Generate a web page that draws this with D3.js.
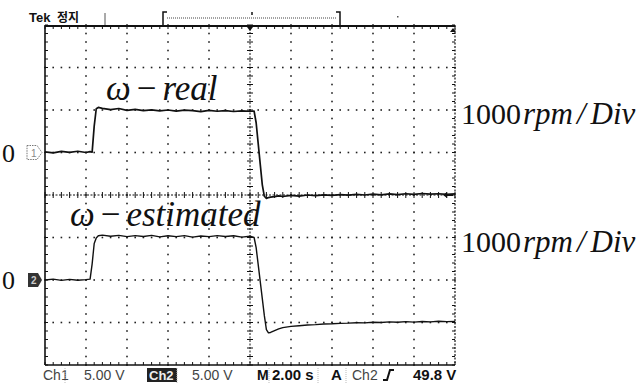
<!DOCTYPE html>
<html>
<head>
<meta charset="utf-8">
<script src="https://cdn.jsdelivr.net/npm/d3@7"></script>
<style>
  html, body { margin: 0; padding: 0; background: #fff; }
  svg { display: block; }
</style>
</head>
<body>
<svg id="scope" width="641" height="385"></svg>
<script>
// ---------------------------------------------
// Data (time in s, speed in rpm)
// ---------------------------------------------
const timeS = [-10, -9.6, -9.2, -8.8, -8.4, -8.0, -7.8, -7.7, -7.6, -7.5, -7.4, -7.2,
  -6.8, -6.4, -6.0, -5.6, -5.2, -4.8, -4.4, -4.0,
  -3.6, -3.2, -2.8, -2.4, -2.0, -1.6, -1.2, -0.8, -0.4, 0,
  0.2, 0.3, 0.4, 0.5, 0.6, 0.7, 0.8, 0.9, 1.0,
  1.2, 1.4, 1.6, 2.0, 2.4, 2.8, 3.2, 3.6, 4.0,
  4.4, 4.8, 5.2, 5.6, 6.0, 6.4, 6.8, 7.2, 7.6, 8.0,
  8.4, 8.8, 9.2, 9.6, 10];

// Ch1: measured speed
const realRpm = [15, -10, 25, 5, 30, 0, 20, 10, 620, 1030, 1060, 1040,
  1010, 1035, 990, 1015, 985, 1005, 980, 1000,
  975, 995, 985, 960, 990, 970, 985, 965, 980, 970,
  975, 700, 210, -280, -760, -1030, -1080, -1060, -1050,
  -1040, -1020, -1035, -1010, -1025, -1000, -1015, -995, -1010,
  -990, -1005, -985, -1000, -980, -995, -975, -990, -970, -985,
  -965, -980, -970, -985, -975];

// Ch2: estimated speed
const estRpm = [0, 20, -10, 15, -5, 10, 20, 380, 860, 990, 1040, 1055,
  1030, 1050, 1020, 1045, 1025, 1050, 1015, 1040,
  1020, 1045, 1010, 1035, 1020, 1045, 1025, 1040, 1010, 1030,
  1000, 760, 360, -40, -440, -840, -1170, -1245, -1235,
  -1190, -1150, -1120, -1090, -1075, -1060, -1050, -1035, -1030,
  -1020, -1015, -1005, -1010, -995, -1000, -985, -995, -980, -990,
  -975, -985, -970, -980, -975];

const channels = ["Ch1", "Ch2"];
const channelOffsetDiv = [1, -2];   // ground marker position, divisions
const rpmPerDiv = 1000;
const traceLabels = ["real", "estimated"];
const scaleLabel = ["1000", "rpm", "Div"];
const readout = {
  ch1: "5.00 V", ch2: "5.00 V", time: "2.00 s", trigSrc: "Ch2", trigLevel: "49.8 V"
};

// ---------------------------------------------
// Scales
// ---------------------------------------------
const svg = d3.select("#scope");
const gLeft = 45, gRight = 455, gTop = 25, gBottom = 365;

const x = d3.scaleLinear().domain([-10, 10]).range([gLeft, gRight]);
const yDiv = d3.scaleLinear().domain([4, -4]).range([gTop, gBottom]);
const yFor = ch => v => yDiv(channelOffsetDiv[ch] + v / rpmPerDiv);

const ink = "#111";
const sans = "'Liberation Sans', Arial, sans-serif";
const serif = "'Liberation Serif', 'Times New Roman', serif";

// ---------------------------------------------
// Graticule
// ---------------------------------------------
const grid = svg.append("g");
const minorT = d3.range(-10, 10.001, 0.4);
const minorD = d3.range(-4, 4.001, 0.2);

// dotted grid lines
for (let t = -8; t <= 8; t += 2) {
  if (t === 0) continue;
  grid.selectAll(null).data(minorD).enter().append("rect")
    .attr("x", x(t) - 0.8).attr("y", d => yDiv(d) - 0.8)
    .attr("width", 1.6).attr("height", 1.6).attr("fill", "#222");
}
for (let d = -3; d <= 3; d++) {
  if (d === 0) continue;
  grid.selectAll(null).data(minorT).enter().append("rect")
    .attr("x", t => x(t) - 0.8).attr("y", yDiv(d) - 0.8)
    .attr("width", 1.6).attr("height", 1.6).attr("fill", "#222");
}

// centre axes with minor ticks
grid.append("line").attr("x1", x(0)).attr("x2", x(0)).attr("y1", gTop).attr("y2", gBottom)
  .attr("stroke", ink).attr("stroke-width", 1).attr("stroke-dasharray", "2,1.5");
grid.append("line").attr("x1", gLeft).attr("x2", gRight).attr("y1", yDiv(0)).attr("y2", yDiv(0))
  .attr("stroke", ink).attr("stroke-width", 1).attr("stroke-dasharray", "2,1.5");
grid.selectAll(null).data(minorD).enter().append("line")
  .attr("x1", x(0) - 3).attr("x2", x(0) + 3)
  .attr("y1", d => yDiv(d)).attr("y2", d => yDiv(d))
  .attr("stroke", ink).attr("stroke-width", 1);
grid.selectAll(null).data(minorT).enter().append("line")
  .attr("x1", t => x(t)).attr("x2", t => x(t))
  .attr("y1", yDiv(0) - 3).attr("y2", yDiv(0) + 3)
  .attr("stroke", ink).attr("stroke-width", 1);

// frame
grid.append("line").attr("x1", gLeft).attr("x2", gRight).attr("y1", gTop + 1).attr("y2", gTop + 1)
  .attr("stroke", ink).attr("stroke-width", 2.2);
grid.append("line").attr("x1", gLeft).attr("x2", gRight).attr("y1", gBottom).attr("y2", gBottom)
  .attr("stroke", ink).attr("stroke-width", 1.4);
grid.append("line").attr("x1", gLeft).attr("x2", gLeft).attr("y1", gTop).attr("y2", gBottom)
  .attr("stroke", ink).attr("stroke-width", 1.6);
grid.append("line").attr("x1", gRight).attr("x2", gRight).attr("y1", gTop).attr("y2", gBottom)
  .attr("stroke", ink).attr("stroke-width", 1.2).attr("stroke-dasharray", "2,1.5");

// edge ticks
grid.selectAll(null).data(minorD).enter().append("line")
  .attr("x1", gLeft).attr("x2", gLeft + 3).attr("y1", d => yDiv(d)).attr("y2", d => yDiv(d))
  .attr("stroke", ink).attr("stroke-width", 1);
grid.selectAll(null).data(minorD).enter().append("line")
  .attr("x1", gRight - 3).attr("x2", gRight).attr("y1", d => yDiv(d)).attr("y2", d => yDiv(d))
  .attr("stroke", ink).attr("stroke-width", 1);
grid.selectAll(null).data(minorT).enter().append("line")
  .attr("x1", t => x(t)).attr("x2", t => x(t)).attr("y1", gTop + 1).attr("y2", gTop + 4)
  .attr("stroke", ink).attr("stroke-width", 1);
grid.selectAll(null).data(minorT).enter().append("line")
  .attr("x1", t => x(t)).attr("x2", t => x(t)).attr("y1", gBottom - 3).attr("y2", gBottom)
  .attr("stroke", ink).attr("stroke-width", 1);

// trigger position / level markers
grid.append("path").attr("d", `M${x(0) - 3},${gTop + 2} h6 l-3,4 z`).attr("fill", ink);
grid.append("path").attr("d", `M${gRight - 5},${gTop + 7} l3,-4 l3,4 z`).attr("fill", ink);
grid.append("path").attr("d", `M${gRight - 12},${yDiv(0)} l4,-3 v2 h6 v2 h-6 v2 z`).attr("fill", ink);

// ---------------------------------------------
// Traces
// ---------------------------------------------
const traces = [realRpm, estRpm];
traces.forEach((vals, ch) => {
  const y = yFor(ch);
  const line = d3.line().x((d, i) => x(timeS[i])).y(d => y(d));
  svg.append("path").datum(vals)
    .attr("d", line)
    .attr("fill", "none")
    .attr("stroke", ink)
    .attr("stroke-width", ch === 0 ? 1.7 : 1.4)
    .attr("stroke-linejoin", "round");
});

// channel ground markers
const m1 = yFor(0)(0), m2 = yFor(1)(0);
svg.append("path").attr("d", `M27,${m1 - 7} h10 l5,7 l-5,7 h-10 z`)
  .attr("fill", "none").attr("stroke", "#777").attr("stroke-dasharray", "1.5,1");
svg.append("text").attr("x", 31).attr("y", m1 + 4).text("1")
  .attr("font-family", sans).attr("font-size", 10).attr("fill", "#888");
svg.append("path").attr("d", `M28,${m2 - 7} h10 l4,7 l-4,7 h-10 z`).attr("fill", "#333");
svg.append("text").attr("x", 31).attr("y", m2 + 4).text("2")
  .attr("font-family", sans).attr("font-size", 10).attr("font-weight", "bold").attr("fill", "#ccc");

// ---------------------------------------------
// Status bars
// ---------------------------------------------
svg.append("text").attr("x", 29).attr("y", 22).text("Tek")
  .attr("font-family", sans).attr("font-weight", "bold").attr("font-size", 13).attr("fill", ink);
svg.append("text").attr("x", 57).attr("y", 22).text("정지")
  .attr("font-family", "'Noto Sans CJK KR', sans-serif").attr("font-weight", "bold")
  .attr("font-size", 12).attr("fill", ink);
svg.append("line").attr("x1", 105).attr("x2", 105).attr("y1", 13).attr("y2", 25)
  .attr("stroke", "#555");
svg.append("path").attr("d", "M167,12 h-4 v13 M336,12 h4 v13")
  .attr("fill", "none").attr("stroke", ink).attr("stroke-width", 1.5);
svg.append("line").attr("x1", 167).attr("x2", 337).attr("y1", 18).attr("y2", 18)
  .attr("stroke", "#444").attr("stroke-dasharray", "1,1");
svg.append("line").attr("x1", 252).attr("x2", 252).attr("y1", 12).attr("y2", 15)
  .attr("stroke", ink).attr("stroke-width", 1.5);
svg.append("rect").attr("x", 397).attr("y", 16).attr("width", 1.5).attr("height", 1.5).attr("fill", "#555");

const by = 380;
const txt = (xx, s, o = {}) => svg.append("text").attr("x", xx).attr("y", by).text(s)
  .attr("font-family", sans).attr("font-size", o.size || 14)
  .attr("font-weight", o.bold ? "bold" : "normal").attr("fill", o.fill || "#444");
txt(43, channels[0]);
txt(84, readout.ch1);
svg.append("rect").attr("x", 147).attr("y", 368).attr("width", 30).attr("height", 14).attr("fill", "#222");
txt(149, channels[1], { bold: true, fill: "#eee", size: 13 });
txt(192, readout.ch2);
txt(257, "M", { bold: true, size: 14, fill: ink });
txt(272, readout.time, { bold: true, size: 15, fill: ink });
txt(331, "A", { bold: true, size: 15, fill: ink });
txt(352, readout.trigSrc);
svg.append("path").attr("d", `M383,${by} h4 l3,-10 h4`).attr("fill", "none")
  .attr("stroke", ink).attr("stroke-width", 2);
txt(413, readout.trigLevel, { bold: true, size: 15, fill: ink });
[65, 177, 269, 318, 346].forEach(sx => svg.append("line")
  .attr("x1", sx).attr("x2", sx).attr("y1", 368).attr("y2", 383)
  .attr("stroke", "#bbb").attr("stroke-dasharray", "1,1"));

// ---------------------------------------------
// Annotations
// ---------------------------------------------
[m1, m2].forEach(my => svg.append("text").attr("x", 2).attr("y", my + 9).text("0")
  .attr("font-family", serif).attr("font-size", 26).attr("fill", ink));

const lab = (xx, yy, word) => {
  const t = svg.append("text").attr("x", xx).attr("y", yy)
    .attr("font-family", serif).attr("font-size", 35).attr("font-style", "italic").attr("fill", ink);
  t.append("tspan").text("ω");
  t.append("tspan").attr("font-style", "normal").attr("dx", 6).text("−");
  t.append("tspan").attr("dx", 6).text(word);
};
lab(106, 100, traceLabels[0]);
lab(70, 226, traceLabels[1]);

[124, 252].forEach(yy => {
  const t = svg.append("text").attr("x", 461).attr("y", yy)
    .attr("font-family", serif).attr("font-size", 30).attr("fill", ink);
  t.append("tspan").text(scaleLabel[0]);
  t.append("tspan").attr("font-style", "italic").attr("font-size", 31).attr("dx", 2).text(scaleLabel[1]);
  t.append("tspan").attr("font-style", "italic").attr("font-size", 31).attr("dx", 4).text("/");
  t.append("tspan").attr("font-style", "italic").attr("font-size", 31).attr("dx", 5).text(scaleLabel[2]);
});
</script>
</body>
</html>
